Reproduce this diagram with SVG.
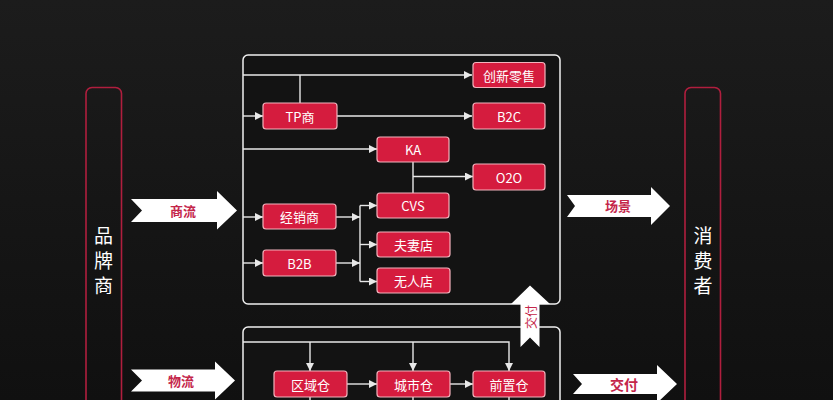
<svg xmlns="http://www.w3.org/2000/svg" width="833" height="400" viewBox="0 0 833 400">
<defs>
<linearGradient id="bg" x1="0" y1="0" x2="0" y2="1">
<stop offset="0" stop-color="#1c1c1c"/>
<stop offset="1" stop-color="#101010"/>
</linearGradient>
<marker id="ah" viewBox="0 0 8 8" refX="8" refY="4" markerWidth="8" markerHeight="8" markerUnits="userSpaceOnUse" orient="auto">
<path d="M0,0 L8,4 L0,8 Z" fill="#e8e8e8"/>
</marker>
<style>
.node rect{fill:#d51c3e;stroke:#f3b3bd;stroke-width:1.2}
.node text{fill:#ffffff;font-family:"Noto Sans CJK SC","Liberation Sans",sans-serif;font-size:13px;text-anchor:middle;dominant-baseline:central}
.frame{fill:#131313;stroke:#f0f0f0;stroke-width:1.5}
.side rect{fill:none;stroke:#b01e3e;stroke-width:1.6}
.side text{fill:#ffffff;font-family:"Noto Sans CJK SC",sans-serif;font-size:19px;writing-mode:tb;letter-spacing:6px}
.big path{fill:#ffffff}
.big text{fill:#c4264a;font-family:"Noto Sans CJK SC",sans-serif;font-size:13px;font-weight:bold;text-anchor:middle;dominant-baseline:central}
.conn path{fill:none;stroke:#e8e8e8;stroke-width:1.4}
.conn .a{marker-end:url(#ah)}
</style>
</defs>
<rect x="0" y="0" width="833" height="400" fill="url(#bg)"/>

<g id="frames">
<rect class="frame" x="243" y="55" width="317" height="249" rx="5"/>
<rect class="frame" x="243" y="327" width="317" height="100" rx="5"/>
</g>

<g id="brand" class="side">
<rect x="86" y="87.5" width="35.5" height="330" rx="6"/>
<text x="103.5" y="226">品牌商</text>
</g>
<g id="consumer" class="side">
<rect x="685" y="87.5" width="35.5" height="330" rx="6"/>
<text x="703" y="226">消费者</text>
</g>

<g id="flow-shangliu" class="big">
<path d="M131,199 L217,199 L217,191 L237,210.5 L217,229.5 L217,222 L131,222 L142,210.5 Z"/>
<text x="183" y="210.5">商流</text>
</g>
<g id="flow-wuliu" class="big">
<path d="M131,369.5 L215,369.5 L215,361.5 L235,380.5 L215,399.5 L215,391.5 L131,391.5 L142,380.5 Z"/>
<text x="181" y="380.5">物流</text>
</g>
<g id="flow-changjing" class="big">
<path d="M567,195 L651,195 L651,187 L670,206 L651,225 L651,217 L567,217 L575,206 Z"/>
<text x="618" y="205">场景</text>
</g>
<g id="flow-jiaofu" class="big">
<path d="M573,374 L657,374 L657,365 L677,384 L657,403 L657,394 L573,394 L582,384 Z"/>
<text x="624" y="383.5" style="font-size:14px">交付</text>
</g>
<g id="flow-jiaofu-up" class="big">
<path d="M530,285.5 L550,304 L539.5,304 L539.5,347 L530,337.5 L520.5,347 L520.5,304 L511,304 Z"/>
<text x="530" y="317" transform="rotate(-90 530 317)" style="font-size:12px;font-weight:normal">交付</text>
</g>

<g id="connectors" class="conn">
<path class="a" d="M243,75 L472,75"/>
<path d="M300,103 L300,75"/>
<path class="a" d="M243,116 L263,116"/>
<path class="a" d="M337,116 L472,116"/>
<path class="a" d="M243,149 L377,149"/>
<path d="M413,162 L413,193"/>
<path class="a" d="M413,176.5 L473,176.5"/>
<path class="a" d="M243,217 L263,217"/>
<path class="a" d="M243,263 L263,263"/>
<path class="a" d="M336,217 L360,217"/>
<path class="a" d="M336,263 L360,263"/>
<path d="M360,205.5 L360,281.5"/>
<path class="a" d="M360,205.5 L377,205.5"/>
<path class="a" d="M360,244.5 L377,244.5"/>
<path class="a" d="M360,281.5 L377,281.5"/>
<path class="a" d="M243,342 L509,342 L509,371"/>
<path class="a" d="M310,342 L310,371"/>
<path class="a" d="M413,342 L413,371"/>
<path class="a" d="M347,384 L377,384"/>
<path class="a" d="M450,384 L473,384"/>
<path d="M310,397 L310,410"/>
<path d="M413,397 L413,410"/>
<path d="M509,397 L509,410"/>
</g>

<g id="n-cxls" class="node"><rect x="473" y="62.5" width="72" height="25" rx="3"/><text x="509" y="75">创新零售</text></g>
<g id="n-tp" class="node"><rect x="263" y="103" width="74" height="26" rx="3"/><text x="300" y="116">TP商</text></g>
<g id="n-b2c" class="node"><rect x="473" y="103" width="72" height="26" rx="3"/><text x="509" y="116">B2C</text></g>
<g id="n-ka" class="node"><rect x="377" y="137" width="72" height="25" rx="3"/><text x="413" y="149.5">KA</text></g>
<g id="n-o2o" class="node"><rect x="473" y="164" width="72" height="26" rx="3"/><text x="509" y="177">O2O</text></g>
<g id="n-cvs" class="node"><rect x="377" y="193" width="72" height="25" rx="3"/><text x="413" y="205.5">CVS</text></g>
<g id="n-jxs" class="node"><rect x="263" y="204" width="73" height="25" rx="3"/><text x="299.5" y="216.5">经销商</text></g>
<g id="n-fqd" class="node"><rect x="377" y="232" width="73" height="25" rx="3"/><text x="413.5" y="244.5">夫妻店</text></g>
<g id="n-b2b" class="node"><rect x="263" y="250" width="73" height="26" rx="3"/><text x="299.5" y="263">B2B</text></g>
<g id="n-wrd" class="node"><rect x="377" y="268" width="73" height="25" rx="3"/><text x="413.5" y="280.5">无人店</text></g>
<g id="n-qyc" class="node"><rect x="274" y="371" width="73" height="26" rx="3"/><text x="310.5" y="384">区域仓</text></g>
<g id="n-csc" class="node"><rect x="377" y="371" width="73" height="26" rx="3"/><text x="413.5" y="384">城市仓</text></g>
<g id="n-qzc" class="node"><rect x="473" y="371" width="72" height="26" rx="3"/><text x="509" y="384">前置仓</text></g>
</svg>
